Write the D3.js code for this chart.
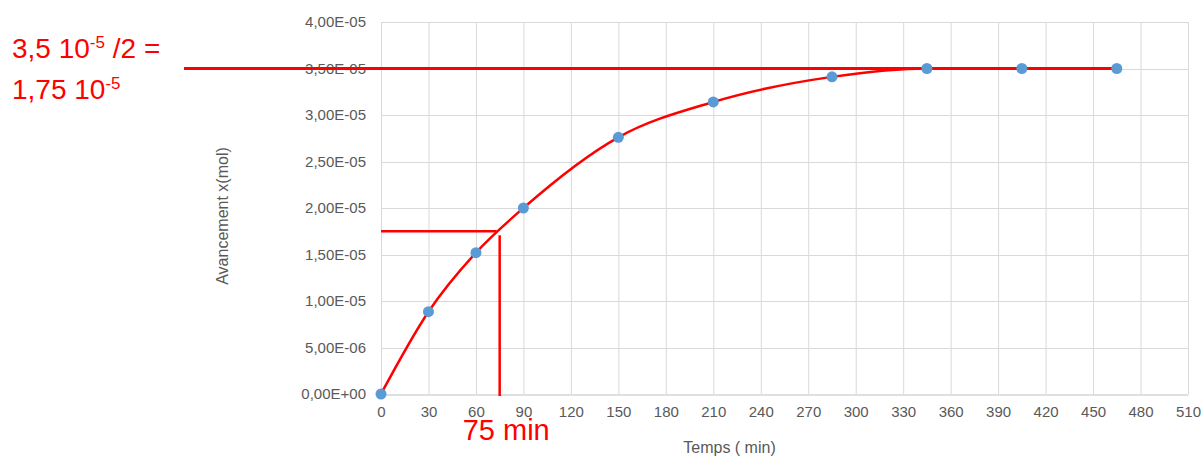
<!DOCTYPE html>
<html>
<head>
<meta charset="utf-8">
<script src="https://d3js.org/d3.v7.min.js"></script>
<style>
  body { margin: 0; background: #fff; }
  text { font-family: "Liberation Sans", Arial, sans-serif; }
</style>
</head>
<body>
<script>
// mesures (temps en min, avancement en mol)
var temps = [0, 30, 60, 90, 150, 210, 285, 345, 405, 465];
var avancement = [0, 8.85e-6, 1.52e-5, 2.0e-5, 2.76e-5, 3.14e-5, 3.41e-5, 3.5e-5, 3.5e-5, 3.5e-5];
var xTicks = d3.range(0, 511, 30);
var yTicks = d3.range(0, 4.01e-5, 5e-6);
var xMax = 510, yMax = 4e-5;
// lecture graphique
var xFinal = 3.5e-5;
var xDemi = xFinal / 2;
var tDemi = 75;

var width = 1204, height = 456;
var margin = {left: 381, right: 16, top: 22, bottom: 62};

var svg = d3.select("body").append("svg")
    .attr("width", width)
    .attr("height", height);

var x = d3.scaleLinear().domain([0, xMax]).range([margin.left, width - margin.right]);
var y = d3.scaleLinear().domain([0, yMax]).range([height - margin.bottom, margin.top]);

function fmtE(v) {
    if (v === 0) return "0,00E+00";
    var s = v.toExponential(2).split("e");
    var e = +s[1];
    var es = (e < 0 ? "-" : "+") + String(Math.abs(e)).padStart(2, "0");
    return s[0].replace(".", ",") + "E" + es;
}

// grille
var grid = svg.append("g").attr("stroke", "#d9d9d9").attr("stroke-width", 1);
grid.selectAll(".v").data(xTicks).join("line")
    .attr("x1", d => x(d) + 0.5).attr("x2", d => x(d) + 0.5)
    .attr("y1", y(yMax)).attr("y2", y(0));
grid.selectAll(".h").data(yTicks.slice(1)).join("line")
    .attr("x1", x(0)).attr("x2", x(xMax))
    .attr("y1", d => Math.round(y(d)) + 0.5).attr("y2", d => Math.round(y(d)) + 0.5);

// axes
var xAxis = svg.append("g")
    .attr("transform", "translate(0," + (Math.round(y(0)) + 0.5) + ")")
    .call(d3.axisBottom(x).tickValues(xTicks).tickSize(0).tickPadding(12));
xAxis.select(".domain").attr("stroke", "#bfbfbf");
xAxis.selectAll("text").attr("fill", "#595959").attr("font-size", 15)
    .style("font-family", "Liberation Sans, Arial, sans-serif");

var yAxis = svg.append("g")
    .attr("transform", "translate(" + x(0) + ",0)")
    .call(d3.axisLeft(y).tickValues(yTicks).tickFormat(fmtE).tickSize(0).tickPadding(15));
yAxis.select(".domain").remove();
yAxis.selectAll("text").attr("fill", "#595959").attr("font-size", 15)
    .style("font-family", "Liberation Sans, Arial, sans-serif");

svg.append("text")
    .attr("x", (x(0) + x(xMax)) / 2 - 55).attr("y", 453)
    .attr("text-anchor", "middle").attr("fill", "#595959").attr("font-size", 16)
    .text("Temps ( min)");

svg.append("text")
    .attr("transform", "translate(228," + (y(yMax / 2) + 8) + ") rotate(-90)")
    .attr("text-anchor", "middle").attr("fill", "#595959").attr("font-size", 16)
    .text("Avancement x(mol)");

var pts = temps.map((t, i) => [t, avancement[i]]);

// lecture de t1/2
svg.append("line")
    .attr("x1", x(0)).attr("x2", x(tDemi) - 3)
    .attr("y1", y(xDemi)).attr("y2", y(xDemi))
    .attr("stroke", "#ff0000").attr("stroke-width", 2.5);
svg.append("line")
    .attr("x1", x(tDemi)).attr("x2", x(tDemi))
    .attr("y1", y(xDemi) + 4).attr("y2", y(0) + 2)
    .attr("stroke", "#ff0000").attr("stroke-width", 2.5);

// annotation x final / 2
var note = svg.append("text")
    .attr("x", 12).attr("y", 58)
    .attr("fill", "#ff0000").attr("font-size", 28);
note.append("tspan").text("3,5 10");
note.append("tspan").attr("dy", -10).attr("font-size", 17).text("-5");
note.append("tspan").attr("dy", 10).text(" /2 =");
var note2 = svg.append("text")
    .attr("x", 12).attr("y", 99)
    .attr("fill", "#ff0000").attr("font-size", 28);
note2.append("tspan").text("1,75 10");
note2.append("tspan").attr("dy", -10).attr("font-size", 17).text("-5");

// asymptote
svg.append("line")
    .attr("x1", 184).attr("x2", x(temps[temps.length - 1]))
    .attr("y1", y(xFinal)).attr("y2", y(xFinal))
    .attr("stroke", "#ff0000").attr("stroke-width", 3);

// courbe
svg.append("path")
    .datum(pts)
    .attr("fill", "none")
    .attr("stroke", "#ff0000")
    .attr("stroke-width", 2.5)
    .attr("d", d3.line().x(d => x(d[0])).y(d => y(d[1])).curve(d3.curveMonotoneX));

svg.append("g").selectAll("circle").data(pts).join("circle")
    .attr("cx", d => x(d[0]))
    .attr("cy", d => y(d[1]))
    .attr("r", 5.5)
    .attr("fill", "#5b9bd5");

svg.append("text")
    .attr("x", x(tDemi) - 37).attr("y", 440)
    .attr("fill", "#ff0000").attr("font-size", 29)
    .text(tDemi + " min");
</script>
</body>
</html>
